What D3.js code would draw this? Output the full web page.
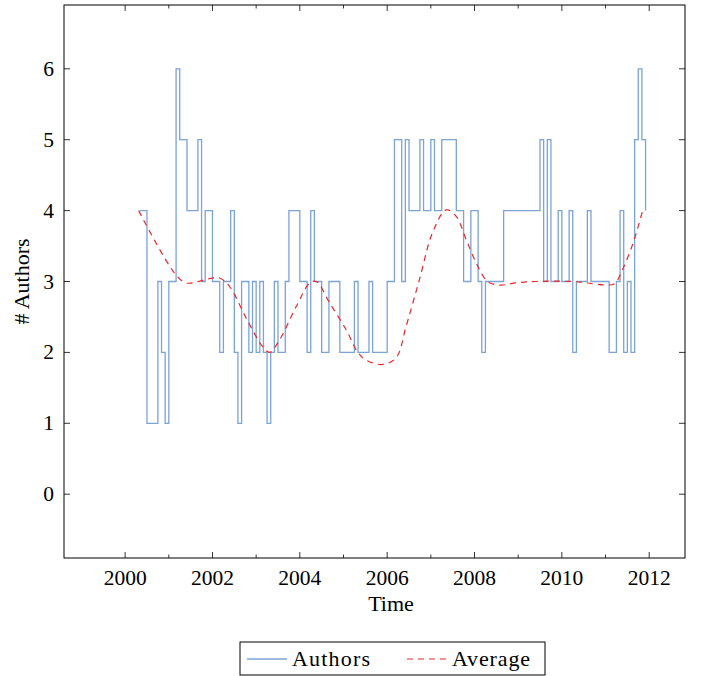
<!DOCTYPE html>
<html>
<head>
<meta charset="utf-8">
<script src="https://cdn.jsdelivr.net/npm/d3@7"></script>
<style>
  body { margin: 0; background: #fff; }
  text { font-family: "Liberation Serif", serif; fill: #000; }
</style>
</head>
<body>
<div id="chart"></div>
<script>
// months where the number of authors changes, and the new value
var changeMonths = ["2000-05", "2000-07", "2000-10", "2000-11", "2000-12", "2001-01", "2001-03", "2001-04",
    "2001-06", "2001-09", "2001-10", "2001-11", "2002-01", "2002-03", "2002-04", "2002-06", "2002-07",
    "2002-08", "2002-09", "2002-11", "2002-12", "2003-01", "2003-02", "2003-03", "2003-04", "2003-05",
    "2003-06", "2003-07", "2003-09", "2003-10", "2004-01", "2004-03", "2004-04", "2004-05", "2004-07",
    "2004-09", "2004-12", "2005-04", "2005-05", "2005-08", "2005-09", "2006-01", "2006-03", "2006-05",
    "2006-06", "2006-07", "2006-10", "2006-11", "2007-01", "2007-02", "2007-04", "2007-08", "2007-10",
    "2007-12", "2008-02", "2008-03", "2008-04", "2008-09", "2009-07", "2009-08", "2009-09", "2009-10",
    "2009-12", "2010-01", "2010-03", "2010-04", "2010-05", "2010-08", "2010-09", "2011-02", "2011-04",
    "2011-05", "2011-06", "2011-07", "2011-08", "2011-09", "2011-10", "2011-11", "2011-12"];
var authors = [4, 1, 3, 2, 1, 3, 6, 5,
    4, 5, 3, 4, 3, 2, 3, 4, 2,
    1, 3, 2, 3, 2, 3, 2, 1, 2,
    3, 2, 3, 4, 3, 2, 4, 3, 2,
    3, 2, 3, 2, 3, 2, 3, 5, 3,
    5, 4, 5, 4, 5, 4, 5, 4, 3,
    4, 3, 2, 3, 4, 5, 3, 5, 3,
    4, 3, 4, 2, 3, 4, 3, 2, 3,
    4, 2, 3, 2, 5, 6, 5, 4];

// smoothed average (decimal years)
var avgYears = [2000.31, 2001.13, 2001.40, 2001.93, 2002.16, 2002.39, 2002.80, 2003.15, 2003.31,
    2003.53, 2003.92, 2004.23, 2004.38, 2004.68, 2005.06, 2005.33, 2005.52, 2005.90, 2006.21,
    2006.43, 2006.74, 2007.04, 2007.35, 2007.58, 2007.81, 2008.04, 2008.30, 2008.58, 2008.95,
    2009.41, 2010.25, 2010.56, 2011.02, 2011.21, 2011.39, 2011.63, 2011.85];
var avgValues = [4.0, 3.12, 2.98, 3.04, 3.05, 2.93, 2.45, 2.08, 2.0,
    2.17, 2.65, 2.98, 3.0, 2.7, 2.32, 2.0, 1.89, 1.83, 1.93,
    2.36, 3.03, 3.69, 4.01, 3.92, 3.59, 3.26, 3.0, 2.95, 2.98,
    3.0, 3.0, 2.98, 2.95, 2.97, 3.17, 3.54, 4.0];

var majorYears = [2000, 2002, 2004, 2006, 2008, 2010, 2012];
var minorYears = [2001, 2003, 2005, 2007, 2009, 2011];
var yTicks = [0, 1, 2, 3, 4, 5, 6];

var width = 708, height = 676;
var margin = {left: 64, right: 23, top: 5, bottom: 118};
var blue = "#7ba3d6", red = "#e8262b";

function toYear(s) {
    var p = s.split("-");
    return +p[0] + (+p[1] - 1) / 12;
}

var stepData = changeMonths.map(function(m, i) { return {x: toYear(m), y: authors[i]}; });
var avgData = avgYears.map(function(x, i) { return {x: x, y: avgValues[i]}; });

var svg = d3.select("#chart").append("svg")
    .attr("width", width)
    .attr("height", height);

var x = d3.scaleLinear()
    .domain([1998.6, 2012.82])
    .range([margin.left, width - margin.right]);
var y = d3.scaleLinear()
    .domain([-0.9, 6.9])
    .range([height - margin.bottom, margin.top]);

var x0 = x.range()[0], x1 = x.range()[1], y0 = y.range()[0], y1 = y.range()[1];

// inward ticks on all four sides
var axisG = svg.append("g").attr("stroke", "#000").attr("stroke-width", 0.8);
majorYears.forEach(function(t) {
    axisG.append("line").attr("x1", x(t)).attr("x2", x(t)).attr("y1", y0).attr("y2", y0 - 6);
    axisG.append("line").attr("x1", x(t)).attr("x2", x(t)).attr("y1", y1).attr("y2", y1 + 6);
});
minorYears.forEach(function(t) {
    axisG.append("line").attr("x1", x(t)).attr("x2", x(t)).attr("y1", y0).attr("y2", y0 - 3.5);
    axisG.append("line").attr("x1", x(t)).attr("x2", x(t)).attr("y1", y1).attr("y2", y1 + 3.5);
});
yTicks.forEach(function(t) {
    axisG.append("line").attr("x1", x0).attr("x2", x0 + 6).attr("y1", y(t)).attr("y2", y(t));
    axisG.append("line").attr("x1", x1).attr("x2", x1 - 6).attr("y1", y(t)).attr("y2", y(t));
});

// tick labels
svg.append("g").selectAll("text")
    .data(majorYears)
    .enter().append("text")
    .attr("x", function(d) { return x(d); })
    .attr("y", y0 + 27)
    .attr("text-anchor", "middle")
    .attr("font-size", 21.5)
    .text(function(d) { return d; });

svg.append("g").selectAll("text")
    .data(yTicks)
    .enter().append("text")
    .attr("x", x0 - 10)
    .attr("y", function(d) { return y(d) + 7; })
    .attr("text-anchor", "end")
    .attr("font-size", 21.5)
    .text(function(d) { return d; });

// authors (step) line
var stepLine = d3.line()
    .x(function(d) { return x(d.x); })
    .y(function(d) { return y(d.y); })
    .curve(d3.curveStepAfter);

svg.append("path")
    .datum(stepData)
    .attr("fill", "none")
    .attr("stroke", blue)
    .attr("stroke-width", 1.3)
    .attr("d", stepLine);

// smoothed average
var avgLine = d3.line()
    .x(function(d) { return x(d.x); })
    .y(function(d) { return y(d.y); })
    .curve(d3.curveCatmullRom.alpha(0.5));

svg.append("path")
    .datum(avgData)
    .attr("fill", "none")
    .attr("stroke", red)
    .attr("stroke-width", 1.2)
    .attr("stroke-dasharray", "6,5")
    .attr("d", avgLine);

// frame
svg.append("rect")
    .attr("x", x0).attr("y", y1)
    .attr("width", x1 - x0).attr("height", y0 - y1)
    .attr("fill", "none")
    .attr("stroke", "#000")
    .attr("stroke-width", 1);

// axis titles
svg.append("text")
    .attr("text-anchor", "middle")
    .attr("x", 391)
    .attr("y", y0 + 53)
    .attr("font-size", 22)
    .text("Time");

svg.append("text")
    .attr("text-anchor", "middle")
    .attr("transform", "translate(29," + ((y0 + y1) / 2) + ")rotate(-90)")
    .attr("font-size", 22)
    .text("# Authors");

// legend
var lg = svg.append("g").attr("transform", "translate(240,642)");
lg.append("rect")
    .attr("width", 305).attr("height", 33)
    .attr("fill", "#fff").attr("stroke", "#000").attr("stroke-width", 1);
lg.append("line").attr("x1", 7).attr("x2", 47).attr("y1", 17).attr("y2", 17)
    .attr("stroke", blue).attr("stroke-width", 1.3);
lg.append("text").attr("x", 52).attr("y", 24).attr("font-size", 22)
    .attr("textLength", 78).attr("lengthAdjust", "spacing").text("Authors");
lg.append("line").attr("x1", 167).attr("x2", 207).attr("y1", 17).attr("y2", 17)
    .attr("stroke", red).attr("stroke-width", 1.2).attr("stroke-dasharray", "6,5");
lg.append("text").attr("x", 212).attr("y", 24).attr("font-size", 22)
    .attr("textLength", 78).attr("lengthAdjust", "spacing").text("Average");
</script>
</body>
</html>
